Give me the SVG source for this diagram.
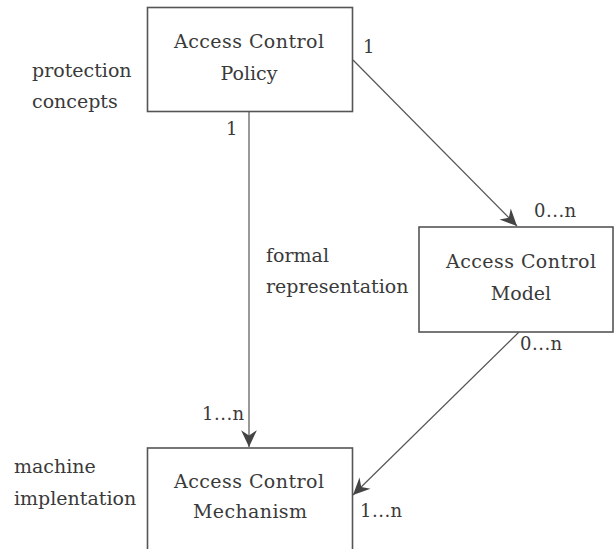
<svg xmlns="http://www.w3.org/2000/svg" width="614" height="549" viewBox="0 0 614 549">
  <style>
    .box { fill: #ffffff; stroke: #555555; stroke-width: 1.6; }
    .edge { fill: none; stroke: #555555; stroke-width: 1.2; }
    .t { font-family: "DejaVu Serif", "Liberation Serif", serif; font-size: 19px; fill: #3a3a3a; }
    .c { text-anchor: middle; }
    .m { font-family: "DejaVu Serif", "Liberation Serif", serif; font-size: 18px; letter-spacing: 0.5px; fill: #3a3a3a; }
  </style>
  <defs>
    <marker id="arrow" markerUnits="userSpaceOnUse" markerWidth="20" markerHeight="20" viewBox="-17 -9 19 18" refX="0" refY="0" orient="auto">
      <path d="M0,0 L-16,-7.5 L-11,0 L-16,7.5 Z" fill="#444444"/>
    </marker>
  </defs>
  <rect width="614" height="549" fill="#ffffff"/>

  <!-- connectors -->
  <g id="connectors">
    <line class="edge" x1="249" y1="111" x2="249" y2="447" stroke-width="1.6" marker-end="url(#arrow)"/>
    <line class="edge" x1="353" y1="60" x2="517" y2="226" marker-end="url(#arrow)"/>
    <line class="edge" x1="519" y1="332" x2="353" y2="495" marker-end="url(#arrow)"/>
    <text class="m" x="363" y="53">1</text>
    <text class="m" x="226" y="135">1</text>
    <text class="m" x="534" y="217">0...n</text>
    <text class="m" x="520" y="350">0...n</text>
    <text class="m" x="202" y="420">1...n</text>
    <text class="m" x="360" y="517">1...n</text>
    <text class="t" x="266" y="262">formal</text>
    <text class="t" x="266" y="293">representation</text>
  </g>

  <!-- nodes -->
  <g id="policy">
    <rect class="box" x="147.5" y="7.5" width="205" height="104"/>
    <text class="t c" x="249" y="48" textLength="150">Access Control</text>
    <text class="t c" x="249" y="80">Policy</text>
    <text class="t" x="32" y="77">protection</text>
    <text class="t" x="32" y="108">concepts</text>
  </g>

  <g id="model">
    <rect class="box" x="419" y="227" width="194" height="105"/>
    <text class="t c" x="521" y="268" textLength="150">Access Control</text>
    <text class="t c" x="521" y="300">Model</text>
  </g>

  <g id="mechanism">
    <rect class="box" x="147.5" y="448" width="205" height="110"/>
    <text class="t c" x="249" y="488" textLength="150">Access Control</text>
    <text class="t c" x="250" y="518" textLength="114">Mechanism</text>
    <text class="t" x="14" y="473">machine</text>
    <text class="t" x="14" y="505">implentation</text>
  </g>
</svg>
